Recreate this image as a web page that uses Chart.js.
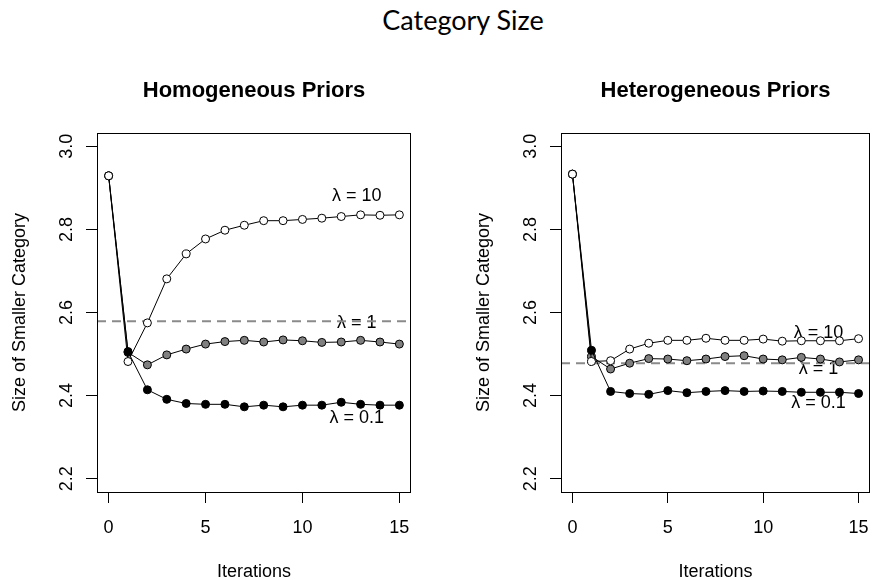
<!DOCTYPE html>
<html>
<head>
<meta charset="utf-8">
<script src="https://cdn.jsdelivr.net/npm/chart.js@4.4.1/dist/chart.umd.min.js"></script>
<style>
  html, body { margin: 0; padding: 0; background: #fff; overflow: hidden; }
  #page { position: relative; width: 875px; height: 580px; }
  #mainTitle { position: absolute; left: 0; top: 6px; width: 926px; text-align: center;
               font: 27px/27px Lato, sans-serif; color: #000; }
  canvas { position: absolute; top: 0; }
</style>
</head>
<body>
<div id="page">
  <div id="mainTitle">Category Size</div>
  <canvas id="homChart" width="437" height="580" style="left:0"></canvas>
  <canvas id="hetChart" width="411" height="580" style="left:464px"></canvas>
</div>
<script>
// Values
var iterations = [0, 1, 2, 3, 4, 5, 6, 7, 8, 9, 10, 11, 12, 13, 14, 15];
var xTicks = [0, 5, 10, 15];
var xTickLabels = ['0', '5', '10', '15'];
var yTicks = [2.2, 2.4, 2.6, 2.8, 3.0];
var yTickLabels = ['2.2', '2.4', '2.6', '2.8', '3.0'];
var seriesNames = ['\u03bb = 10', '\u03bb = 1', '\u03bb = 0.1'];

// Homogeneous priors
var homLambda10 = [2.929, 2.482, 2.575, 2.681, 2.741, 2.777, 2.798, 2.810, 2.821, 2.821, 2.824, 2.827, 2.831, 2.835, 2.834, 2.835];
var homLambda1  = [2.929, 2.504, 2.474, 2.498, 2.512, 2.524, 2.530, 2.533, 2.529, 2.534, 2.532, 2.528, 2.529, 2.533, 2.529, 2.524];
var homLambda01 = [2.929, 2.506, 2.414, 2.391, 2.381, 2.379, 2.379, 2.373, 2.377, 2.373, 2.377, 2.377, 2.384, 2.379, 2.377, 2.377];
var homBaseline = 2.579;
var homLabelX = 12.8;
var homLabelY = [2.880, 2.575, 2.346];

// Heterogeneous priors
var hetLambda10 = [2.933, 2.482, 2.484, 2.512, 2.526, 2.533, 2.533, 2.538, 2.533, 2.533, 2.536, 2.531, 2.532, 2.532, 2.532, 2.537];
var hetLambda1  = [2.933, 2.494, 2.464, 2.478, 2.489, 2.488, 2.484, 2.488, 2.494, 2.496, 2.488, 2.486, 2.492, 2.488, 2.481, 2.486];
var hetLambda01 = [2.933, 2.509, 2.410, 2.405, 2.403, 2.412, 2.407, 2.410, 2.412, 2.410, 2.411, 2.410, 2.408, 2.408, 2.408, 2.405];
var hetBaseline = 2.478;
var hetLabelX = 12.9;
var hetLabelY = [2.551, 2.463, 2.381];

var xTitle = 'Iterations';
var yTitle = 'Size of Smaller Category';
var FONT = '"Liberation Sans", Arial, Helvetica, sans-serif';

// R-style axes, box, titles and in-plot labels
var rAxesPlugin = {
  id: 'rAxes',
  beforeDatasetsDraw: function(chart) {
    var o = chart.options.plugins.rAxes;
    var ctx = chart.ctx, a = chart.chartArea;
    var xs = chart.scales.x, ys = chart.scales.y;
    ctx.save();
    ctx.fillStyle = '#000';
    ctx.font = '18px ' + FONT;
    ctx.textAlign = 'center';
    ctx.textBaseline = 'middle';
    seriesNames.forEach(function(name, i) {
      ctx.fillText(name, xs.getPixelForValue(o.labelX), ys.getPixelForValue(o.labelY[i]));
    });
    // horizontal reference line
    var y = ys.getPixelForValue(o.baseline);
    ctx.strokeStyle = '#8a8a8a';
    ctx.lineWidth = 2;
    ctx.setLineDash([9, 6]);
    ctx.beginPath();
    ctx.moveTo(a.left, y);
    ctx.lineTo(a.right, y);
    ctx.stroke();
    ctx.restore();
  },
  afterDraw: function(chart) {
    var o = chart.options.plugins.rAxes;
    var ctx = chart.ctx, a = chart.chartArea;
    var xs = chart.scales.x, ys = chart.scales.y;
    var midX = (a.left + a.right) / 2;
    ctx.save();
    ctx.strokeStyle = '#000';
    ctx.lineWidth = 1;
    ctx.strokeRect(a.left + 0.5, a.top + 0.5, a.right - a.left - 1, a.bottom - a.top);
    ctx.fillStyle = '#000';
    ctx.textAlign = 'center';
    ctx.textBaseline = 'alphabetic';
    ctx.font = 'bold 22px ' + FONT;
    ctx.fillText(o.title, midX, a.top - 36.5);
    ctx.font = '18px ' + FONT;
    xTicks.forEach(function(v, i) {
      ctx.fillText(xTickLabels[i], xs.getPixelForValue(v), a.bottom + 41);
    });
    ctx.fillText(xTitle, midX, a.bottom + 85);
    yTicks.forEach(function(v, i) {
      ctx.save();
      ctx.translate(a.left - 25.5, ys.getPixelForValue(v));
      ctx.rotate(-Math.PI / 2);
      ctx.fillText(yTickLabels[i], 0, 0);
      ctx.restore();
    });
    ctx.save();
    ctx.translate(a.left - 72, (a.top + a.bottom) / 2);
    ctx.rotate(-Math.PI / 2);
    ctx.fillText(yTitle, 0, 0);
    ctx.restore();
    ctx.restore();
  }
};

function makeSeries(values, fill) {
  return {
    data: values.map(function(v, i) { return { x: iterations[i], y: v }; }),
    borderColor: '#000',
    borderWidth: 1,
    backgroundColor: fill,
    pointBackgroundColor: fill,
    pointBorderColor: '#000',
    pointBorderWidth: 1,
    pointRadius: 4,
    tension: 0,
    fill: false
  };
}

function makePanel(canvasId, title, lam10, lam1, lam01, baseline, labelX, labelY, rightPad) {
  return new Chart(document.getElementById(canvasId), {
    type: 'line',
    data: {
      // first dataset is drawn on top
      datasets: [makeSeries(lam10, '#ffffff'), makeSeries(lam01, '#000000'), makeSeries(lam1, '#808080')]
    },
    options: {
      responsive: false,
      animation: false,
      devicePixelRatio: 1,
      layout: { padding: { top: 133, right: rightPad, left: 0, bottom: 0 } },
      plugins: {
        legend: { display: false },
        tooltip: { enabled: false },
        rAxes: { title: title, baseline: baseline, labelX: labelX, labelY: labelY }
      },
      scales: {
        x: {
          type: 'linear',
          min: -0.6,
          max: 15.6,
          afterBuildTicks: function(s) { s.ticks = xTicks.map(function(v) { return { value: v }; }); },
          afterFit: function(s) { s.height = 88; },
          border: { display: false },
          grid: { drawOnChartArea: false, drawTicks: true, tickLength: 11, color: '#000', lineWidth: 1 },
          ticks: { display: false }
        },
        y: {
          type: 'linear',
          min: 2.168,
          max: 3.032,
          afterBuildTicks: function(s) { s.ticks = yTicks.map(function(v) { return { value: v }; }); },
          afterFit: function(s) { s.width = 97; },
          border: { display: false },
          grid: { drawOnChartArea: false, drawTicks: true, tickLength: 11, color: '#000', lineWidth: 1 },
          ticks: { display: false }
        }
      }
    },
    plugins: [rAxesPlugin]
  });
}

var homChart = makePanel('homChart', 'Homogeneous Priors', homLambda10, homLambda1, homLambda01,
  homBaseline, homLabelX, homLabelY, 26);
var hetChart = makePanel('hetChart', 'Heterogeneous Priors', hetLambda10, hetLambda1, hetLambda01,
  hetBaseline, hetLabelX, hetLabelY, 1.5);
</script>
</body>
</html>
